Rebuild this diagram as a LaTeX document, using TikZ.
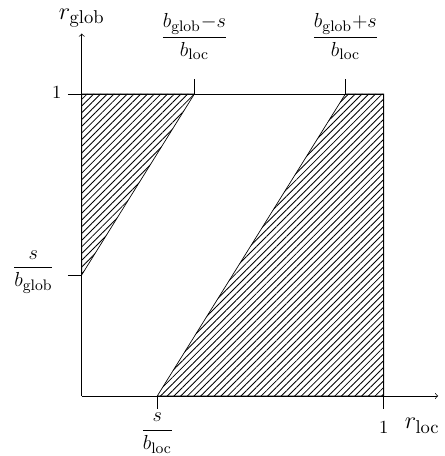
\documentclass[tikz,border=0pt]{standalone}
\usepackage{amsmath}
\usetikzlibrary{patterns.meta}
\tikzset{hatched/.style={pattern={Lines[angle=45,distance=2.8pt,line width=0.5pt]}}}
\begin{document}
\begin{tikzpicture}[x=6.27cm,y=6.27cm,>=to,
  axislabel/.style={font=\fontsize{15.5}{18}\selectfont,inner sep=1pt},
  fraclabel/.style={font=\fontsize{12.7}{15}\selectfont},
  onelabel/.style={font=\fontsize{11}{13}\selectfont}]
\useasboundingbox (-0.2706,-0.1987) rectangle (1.2013,1.311);
% axes
\coordinate (o) at (0,0);
\coordinate (xend) at (1.18,0);
\coordinate (yend) at (0,1.2);
\draw[->] (o) -- (xend);
\draw[->] (o) -- (yend);
% shaded parts
\draw[hatched] (0,0.401) -- (0,1) -- (0.373,1) -- cycle;
\draw[hatched] (0.25,0) -- (1,0) -- (1,1) -- (0.873,1) -- cycle;
\draw (0,1) -- (1,1) -- (1,0);
% ticks
\draw (-0.046,1) -- (0,1);
\draw (-0.046,0.401) -- (0,0.401);
\draw (0.25,0) -- (0.25,-0.042);
\draw (1,0) -- (1,-0.042);
\draw (0.373,1) -- (0.373,1.05);
\draw (0.873,1) -- (0.873,1.05);
% labels
\node[axislabel] (rglob) at (0,1.252) {$r_{\mathrm{glob}}$};
\node[axislabel] (rloc) at (1.127,-0.099) {$r_{\mathrm{loc}}$};
\node[onelabel] (xone) at (1,-0.103) {$1$};
\node[onelabel] (yone) at (-0.083,1.005) {$1$};
\node[fraclabel] (sloc) at (0.25,-0.123) {$\dfrac{s}{b_{\mathrm{loc}}}$};
\node[fraclabel] (sglob) at (-0.16,0.411) {$\dfrac{s}{b_{\mathrm{glob}}}$};
\node[fraclabel] (minus) at (0.373,1.19) {$\dfrac{b_{\mathrm{glob}}{-}s}{b_{\mathrm{loc}}}$};
\node[fraclabel] (plus) at (0.873,1.19) {$\dfrac{b_{\mathrm{glob}}{+}s}{b_{\mathrm{loc}}}$};
\end{tikzpicture}
\end{document}
